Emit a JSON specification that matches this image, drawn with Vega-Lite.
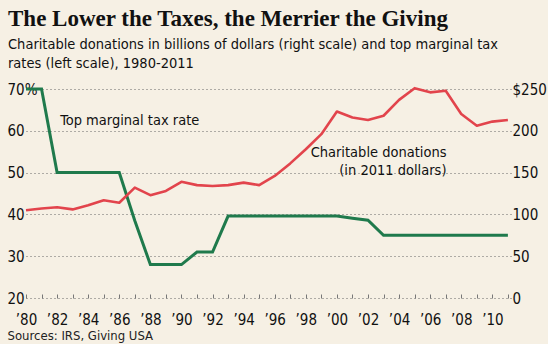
{
  "$schema": "https://vega.github.io/schema/vega-lite/v6.json",
  "width": 485,
  "height": 209,
  "autosize": {"type": "none"},
  "padding": {"left": 26, "top": 89, "right": 37, "bottom": 46},
  "background": "#f6f0e4",
  "title": {
    "text": "The Lower the Taxes, the Merrier the Giving",
    "subtitle": ["Charitable donations in billions of dollars (right scale) and top marginal tax", "rates (left scale), 1980-2011"],
    "anchor": "start",
    "frame": "group",
    "dx": -18,
    "offset": 12,
    "font": "Liberation Serif",
    "fontSize": 23,
    "fontWeight": "bold",
    "color": "#111111",
    "subtitleFont": "DejaVu Sans Condensed, Roboto",
    "subtitleFontSize": 14.5,
    "subtitleColor": "#111111",
    "subtitleLineHeight": 19,
    "subtitlePadding": 7
  },
  "config": {
    "view": {"stroke": null},
    "font": "DejaVu Sans Condensed, Roboto",
    "axis": {
      "labelFont": "DejaVu Sans Condensed, Roboto",
      "labelFontSize": 15,
      "labelColor": "#111111",
      "labelOverlap": false,
      "labelFlush": false,
      "domain": false,
      "gridColor": "#666666",
      "gridDash": [1, 3],
      "gridWidth": 1
    }
  },
  "data": {
    "values": [
      {"year": 1980, "rate": 70, "donations": 105},
      {"year": 1981, "rate": 70, "donations": 107},
      {"year": 1982, "rate": 50, "donations": 108.5},
      {"year": 1983, "rate": 50, "donations": 106},
      {"year": 1984, "rate": 50, "donations": 111},
      {"year": 1985, "rate": 50, "donations": 117},
      {"year": 1986, "rate": 50, "donations": 114},
      {"year": 1987, "rate": 38.5, "donations": 132},
      {"year": 1988, "rate": 28, "donations": 123},
      {"year": 1989, "rate": 28, "donations": 128},
      {"year": 1990, "rate": 28, "donations": 139},
      {"year": 1991, "rate": 31, "donations": 135},
      {"year": 1992, "rate": 31, "donations": 134},
      {"year": 1993, "rate": 39.6, "donations": 135},
      {"year": 1994, "rate": 39.6, "donations": 138},
      {"year": 1995, "rate": 39.6, "donations": 135},
      {"year": 1996, "rate": 39.6, "donations": 146},
      {"year": 1997, "rate": 39.6, "donations": 161},
      {"year": 1998, "rate": 39.6, "donations": 178},
      {"year": 1999, "rate": 39.6, "donations": 196},
      {"year": 2000, "rate": 39.6, "donations": 223},
      {"year": 2001, "rate": 39.1, "donations": 216},
      {"year": 2002, "rate": 38.6, "donations": 213},
      {"year": 2003, "rate": 35, "donations": 218},
      {"year": 2004, "rate": 35, "donations": 237},
      {"year": 2005, "rate": 35, "donations": 251},
      {"year": 2006, "rate": 35, "donations": 246},
      {"year": 2007, "rate": 35, "donations": 248},
      {"year": 2008, "rate": 35, "donations": 220},
      {"year": 2009, "rate": 35, "donations": 206},
      {"year": 2010, "rate": 35, "donations": 211},
      {"year": 2011, "rate": 35, "donations": 213}
    ]
  },
  "layer": [
    {
      "mark": {"type": "line", "color": "#1f7a4c", "strokeWidth": 3, "strokeJoin": "miter"},
      "encoding": {
        "x": {
          "field": "year", "type": "quantitative",
          "scale": {"domain": [1980, 2011.2], "nice": false, "zero": false},
          "axis": {
            "orient": "bottom",
            "values": [1980,1981,1982,1983,1984,1985,1986,1987,1988,1989,1990,1991,1992,1993,1994,1995,1996,1997,1998,1999,2000,2001,2002,2003,2004,2005,2006,2007,2008,2009,2010,2011],
            "labels": false,
            "grid": false,
            "ticks": true,
            "tickSize": -4,
            "tickColor": "#777777",
            "tickWidth": 1,
            "title": null
          }
        },
        "y": {
          "field": "rate", "type": "quantitative",
          "scale": {"domain": [20, 70], "nice": false, "zero": false},
          "axis": {
            "values": [20, 30, 40, 50, 60, 70],
            "labelExpr": "datum.value == 70 ? '70%' : datum.label",
            "labelAlign": "left",
            "labelPadding": 19,
            "ticks": false,
            "tickSize": 0,
            "grid": true,
            "title": null
          }
        }
      }
    },
    {
      "mark": {"type": "line", "color": "#e2444c", "strokeWidth": 2.6, "strokeJoin": "round"},
      "encoding": {
        "x": {
          "field": "year", "type": "quantitative",
          "axis": {
            "orient": "bottom",
            "values": [1980,1982,1984,1986,1988,1990,1992,1994,1996,1998,2000,2002,2004,2006,2008,2010],
            "labelExpr": "'\u2019' + substring(toString(datum.value), 2)",
            "grid": false,
            "ticks": false,
            "tickSize": 0,
            "labelPadding": 14,
            "labelFontSize": 15,
            "labelOverlap": false,
            "labelFlush": false,
            "labelBound": false,
            "title": "Sources: IRS, Giving USA",
            "titleFont": "DejaVu Sans Condensed, Roboto",
            "titleFontSize": 13,
            "titleFontWeight": "normal",
            "titleColor": "#222222",
            "titleAnchor": "start",
            "titleAlign": "left",
            "titleBaseline": "alphabetic",
            "titleX": -19,
            "titleY": 41
          }
        },
        "y": {
          "field": "donations", "type": "quantitative",
          "scale": {"domain": [0, 250], "nice": false},
          "axis": {
            "orient": "right",
            "values": [0, 50, 100, 150, 200, 250],
            "labelExpr": "datum.value == 250 ? '$250' : datum.label",
            "labelAlign": "left",
            "labelPadding": 1,
            "ticks": false,
            "tickSize": 0,
            "grid": false,
            "title": null
          }
        }
      }
    },
    {
      "data": {"values": [{"year": 1982.2, "rate": 61.4, "label": "Top marginal tax rate"}]},
      "mark": {"type": "text", "align": "left", "baseline": "alphabetic", "fontSize": 14.5, "color": "#111111"},
      "encoding": {
        "x": {"field": "year", "type": "quantitative", "axis": null},
        "y": {"field": "rate", "type": "quantitative", "scale": {"domain": [20, 70], "nice": false, "zero": false}, "axis": null},
        "text": {"field": "label"}
      }
    },
    {
      "data": {"values": [
        {"year": 2007.05, "rate": 53.7, "label": "Charitable donations"},
        {"year": 2007.05, "rate": 49.4, "label": "(in 2011 dollars)"}
      ]},
      "mark": {"type": "text", "align": "right", "baseline": "alphabetic", "fontSize": 14.5, "color": "#111111"},
      "encoding": {
        "x": {"field": "year", "type": "quantitative", "axis": null},
        "y": {"field": "rate", "type": "quantitative", "scale": {"domain": [20, 70], "nice": false, "zero": false}, "axis": null},
        "text": {"field": "label"}
      }
    }
  ],
  "resolve": {"scale": {"y": "independent"}, "axis": {"x": "independent"}}
}
